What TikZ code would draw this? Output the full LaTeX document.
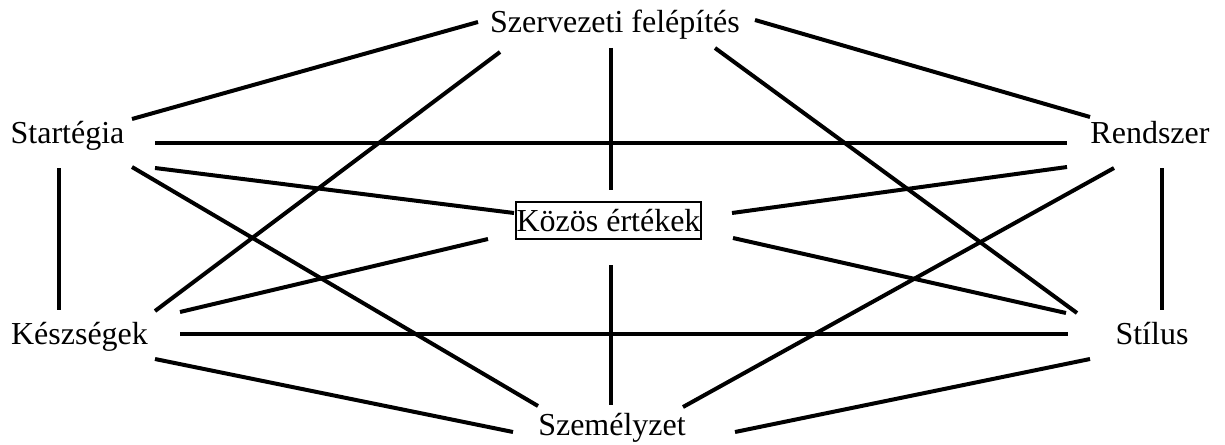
\documentclass[tikz,border=0pt]{standalone}
\usepackage{fontspec}
\setmainfont{Liberation Serif}
\begin{document}
\begin{tikzpicture}[x=1pt,y=-1pt,
  lbl/.style={anchor=base,inner sep=0pt,font=\fontsize{32}{36}\selectfont},
  link/.style={line width=4pt}]
\useasboundingbox (0,0) rectangle (1225,444);
% labels
\node[lbl] (szerv) at (615,33) {Szervezeti felépítés};
\node[lbl] (strat) at (67.5,143) {Startégia};
\node[lbl] (rend) at (1150,143) {Rendszer};
\node[lbl] (kesz) at (79.5,344) {Készségek};
\node[lbl] (stil) at (1152,344) {Stílus};
\node[lbl] (szem) at (612,435) {Személyzet};
\node[draw,line width=1.5pt,minimum width=185pt,minimum height=37pt,inner sep=0pt,
      font=\fontsize{32}{36}\selectfont] (kozos) at (608.5,220.5) {Közös értékek};
% endpoints
\coordinate (a1) at (478,22);  \coordinate (a2) at (132,119);
\coordinate (b1) at (755,20);  \coordinate (b2) at (1090,117);
\coordinate (c1) at (611,48);  \coordinate (c2) at (611,190);
\coordinate (d1) at (500,52);  \coordinate (d2) at (155,311);
\coordinate (e1) at (715,48);  \coordinate (e2) at (1077,313);
\coordinate (f1) at (155,143); \coordinate (f2) at (1067,143);
\coordinate (g1) at (155,168); \coordinate (g2) at (514,213);
\coordinate (h1) at (132,167); \coordinate (h2) at (538,406);
\coordinate (i1) at (59,168);  \coordinate (i2) at (59,310);
\coordinate (j1) at (1067,167);\coordinate (j2) at (732,213);
\coordinate (k1) at (1114,168);\coordinate (k2) at (683,407);
\coordinate (l1) at (1162,168);\coordinate (l2) at (1162,310);
\coordinate (m1) at (488,239); \coordinate (m2) at (180,312);
\coordinate (n1) at (733,238); \coordinate (n2) at (1066,313);
\coordinate (o1) at (611,265); \coordinate (o2) at (611,405);
\coordinate (p1) at (180,334); \coordinate (p2) at (1068,334);
\coordinate (q1) at (155,359); \coordinate (q2) at (513,432);
\coordinate (r1) at (1090,359);\coordinate (r2) at (735,432);
% connectors
\foreach \s in {a,b,c,d,e,f,g,h,i,j,k,l,m,n,o,p,q,r}
  \draw[link] (\s1) -- (\s2);
\end{tikzpicture}
\end{document}
